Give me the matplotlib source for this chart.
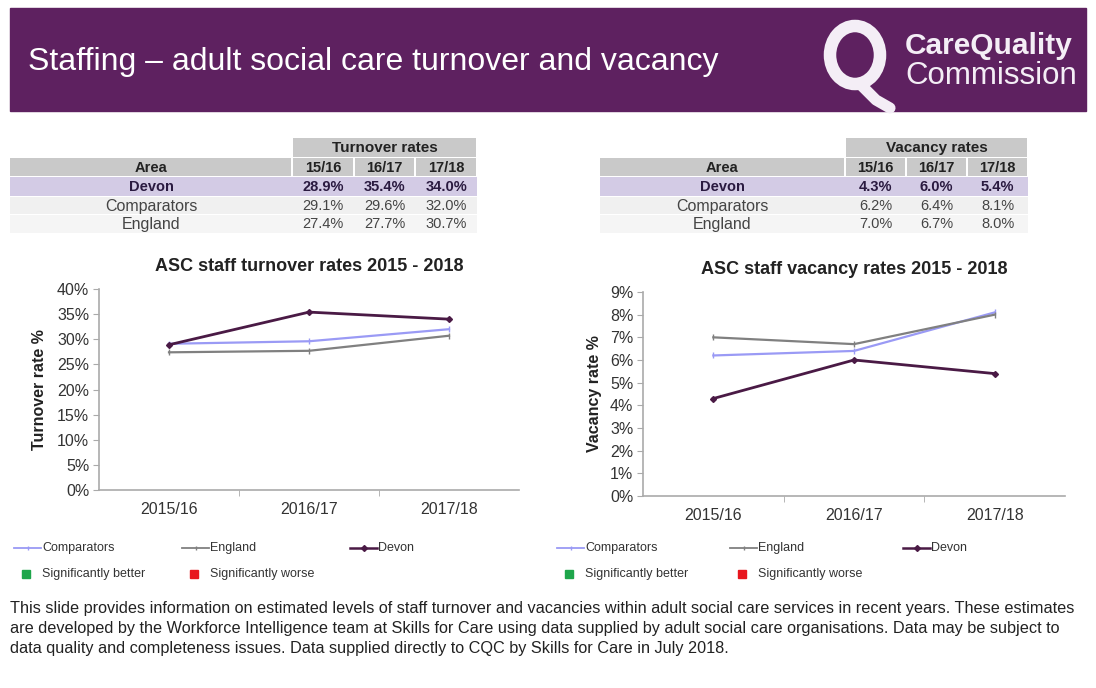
import matplotlib.pyplot as plt
from matplotlib.patches import Rectangle, Ellipse
from matplotlib.ticker import PercentFormatter

W, H = 1096, 688

years = ["2015/16", "2016/17", "2017/18"]
short_years = ["15/16", "16/17", "17/18"]
areas = ["Devon", "Comparators", "England"]

turnover_devon = [28.9, 35.4, 34.0]
turnover_comparators = [29.1, 29.6, 32.0]
turnover_england = [27.4, 27.7, 30.7]

vacancy_devon = [4.3, 6.0, 5.4]
vacancy_comparators = [6.2, 6.4, 8.1]
vacancy_england = [7.0, 6.7, 8.0]

PURPLE = "#5e2160"
DEVON = "#4a1a45"
COMP = "#9a9af5"
ENG = "#808080"
TXT = "#333333"

plt.rcParams["font.family"] = ["Liberation Sans", "DejaVu Sans"]

footer_lines = [
    "This slide provides information on estimated levels of staff turnover and vacancies within adult social care services in recent years. These estimates",
    "are developed by the Workforce Intelligence team at Skills for Care using data supplied by adult social care organisations. Data may be subject to",
    "data quality and completeness issues. Data supplied directly to CQC by Skills for Care in July 2018.",
]


def px(x0, y0, x1, y1):
    return [x0 / W, 1 - y1 / H, (x1 - x0) / W, (y1 - y0) / H]


fig = plt.figure(figsize=(W / 100, H / 100), dpi=100)
bg = fig.add_axes([0, 0, 1, 1])
bg.set_xlim(0, W)
bg.set_ylim(H, 0)
bg.axis("off")

# banner with title and logo
bg.add_patch(Rectangle((10, 8), 1076, 103, color=PURPLE))
bg.text(28, 62, "Staffing \u2013 adult social care turnover and vacancy", color="white",
        fontsize=23, va="center", ha="left")
bg.add_patch(Ellipse((855, 55), 50, 58, fill=False, ec="#f4eef6", lw=9))
bg.plot([862, 876, 890], [86, 100, 108], color="#f4eef6", lw=8, solid_capstyle="round")
bg.text(905, 46, "CareQuality", color="#f4eef6", fontsize=21.5, fontweight="bold",
        va="center", ha="left")
bg.text(905, 76, "Commission", color="#f4eef6", fontsize=22.5, va="center", ha="left")


def draw_table(x_area0, x_val0, x_val1, header, rows):
    col_w = (x_val1 - x_val0) / 3
    y_rows = [138, 158, 177, 197, 215, 234]
    row_colors = ["#d3cbe5", "#f0f0f0", "#f5f5f5"]
    for j in range(3):
        bg.add_patch(Rectangle((x_val0 + j * col_w + 1, y_rows[1]), col_w - 2, y_rows[2] - y_rows[1] - 1,
                               color="#c9c9c9", lw=0))
    bg.add_patch(Rectangle((x_val0 + 1, y_rows[0]), x_val1 - x_val0 - 2, y_rows[1] - y_rows[0] - 1,
                           color="#c9c9c9", lw=0))
    bg.add_patch(Rectangle((x_area0, y_rows[1]), x_val0 - x_area0 - 1, y_rows[2] - y_rows[1] - 1,
                           color="#c9c9c9", lw=0))
    bg.text((x_val0 + x_val1) / 2, (y_rows[0] + y_rows[1]) / 2, header, fontsize=11,
            fontweight="bold", ha="center", va="center", color="#222222")
    bg.text((x_area0 + x_val0) / 2, (y_rows[1] + y_rows[2]) / 2, "Area", fontsize=10.5,
            fontweight="bold", ha="center", va="center", color="#222222")
    for j, lab in enumerate(short_years):
        bg.text(x_val0 + (j + 0.5) * col_w, (y_rows[1] + y_rows[2]) / 2, lab, fontsize=10.5,
                fontweight="bold", ha="center", va="center", color="#222222")
    for i, (name, vals) in enumerate(zip(areas, rows)):
        y0, y1 = y_rows[i + 2], y_rows[i + 3]
        bold = "bold" if i == 0 else "normal"
        tc = "#2a1a40" if i == 0 else "#444444"
        bg.add_patch(Rectangle((x_area0, y0), x_val1 - x_area0, y1 - y0 - 1,
                               color=row_colors[i], lw=0))
        bg.text((x_area0 + x_val0) / 2, (y0 + y1) / 2, name, fontsize=11.5 if i else 10.5,
                fontweight=bold, ha="center", va="center", color=tc)
        for j, v in enumerate(vals):
            bg.text(x_val0 + (j + 0.5) * col_w, (y0 + y1) / 2, f"{v:.1f}%", fontsize=10.5,
                    fontweight=bold, ha="center", va="center", color=tc)


draw_table(10, 292, 477, "Turnover rates",
           [turnover_devon, turnover_comparators, turnover_england])
draw_table(600, 845, 1028, "Vacancy rates",
           [vacancy_devon, vacancy_comparators, vacancy_england])


def draw_chart(rect, devon, comp, eng, ymax, title, ylabel, label_x):
    ax = fig.add_axes(rect)
    x = range(len(years))
    ax.plot(x, [v / 100 for v in comp], color=COMP, lw=1.6, marker="|", ms=4, zorder=3)
    ax.plot(x, [v / 100 for v in eng], color=ENG, lw=1.6, marker="|", ms=4, zorder=3)
    ax.plot(x, [v / 100 for v in devon], color=DEVON, lw=2, marker="D", ms=3, zorder=4)
    ax.set_xlim(-0.5, 2.5)
    ax.set_ylim(0, ymax / 100)
    ax.yaxis.set_major_formatter(PercentFormatter(1.0, decimals=0))
    ax.set_yticks([t / 100 for t in range(0, ymax + 1, 5 if ymax > 10 else 1)])
    ax.set_xticks(list(x))
    ax.set_xticklabels(years)
    ax.set_xticks([0.5, 1.5], minor=True)
    ax.tick_params(axis="x", which="major", length=0, pad=9, labelsize=11.5, labelcolor=TXT)
    ax.tick_params(axis="x", which="minor", length=4, color="#aaaaaa")
    ax.tick_params(axis="y", length=4, color="#aaaaaa", labelsize=11.5, labelcolor=TXT, pad=3)
    for s in ["top", "right"]:
        ax.spines[s].set_visible(False)
    for s in ["left", "bottom"]:
        ax.spines[s].set_color("#aaaaaa")
        ax.spines[s].set_linewidth(1.2)
    ax.set_title(title, fontsize=13, fontweight="bold", pad=13, color="#222222")
    ax.set_ylabel(ylabel, fontsize=11.5, fontweight="bold", color="#222222")
    ax.yaxis.set_label_coords(label_x, 0.5)
    return ax


draw_chart(px(99, 289, 519, 490), turnover_devon, turnover_comparators, turnover_england,
           40, "ASC staff turnover rates 2015 - 2018", "Turnover rate %", -0.124)
draw_chart(px(643, 292, 1065, 496), vacancy_devon, vacancy_comparators, vacancy_england,
           9, "ASC staff vacancy rates 2015 - 2018", "Vacancy rate %", -0.097)


def draw_legend(x0, step):
    entries = [("Comparators", COMP, "|", 1.3), ("England", ENG, "|", 1.3), ("Devon", DEVON, "D", 1.8)]
    for k, (lab, col, mk, lw) in enumerate(entries):
        lx = x0 + k * step
        bg.plot([lx, lx + 27], [548, 548], color=col, lw=lw)
        bg.plot([lx + 13.5], [548], color=col, marker=mk, ms=3)
        bg.text(lx + 28, 548, lab, fontsize=9, va="center", ha="left", color=TXT)
    for k, (lab, col) in enumerate([("Significantly better", "#1ea64b"),
                                    ("Significantly worse", "#e8161e")]):
        lx = x0 + k * step
        bg.plot([lx + 12], [574], marker="s", color=col, ms=6, lw=0)
        bg.text(lx + 28, 574, lab, fontsize=9, va="center", ha="left", color=TXT)


draw_legend(14, 168)
draw_legend(557, 173)

for i, line in enumerate(footer_lines):
    bg.text(10, 608 + 20 * i, line, fontsize=11.7, va="center", ha="left", color="#222222")

fig.savefig("out.png", dpi=100)
